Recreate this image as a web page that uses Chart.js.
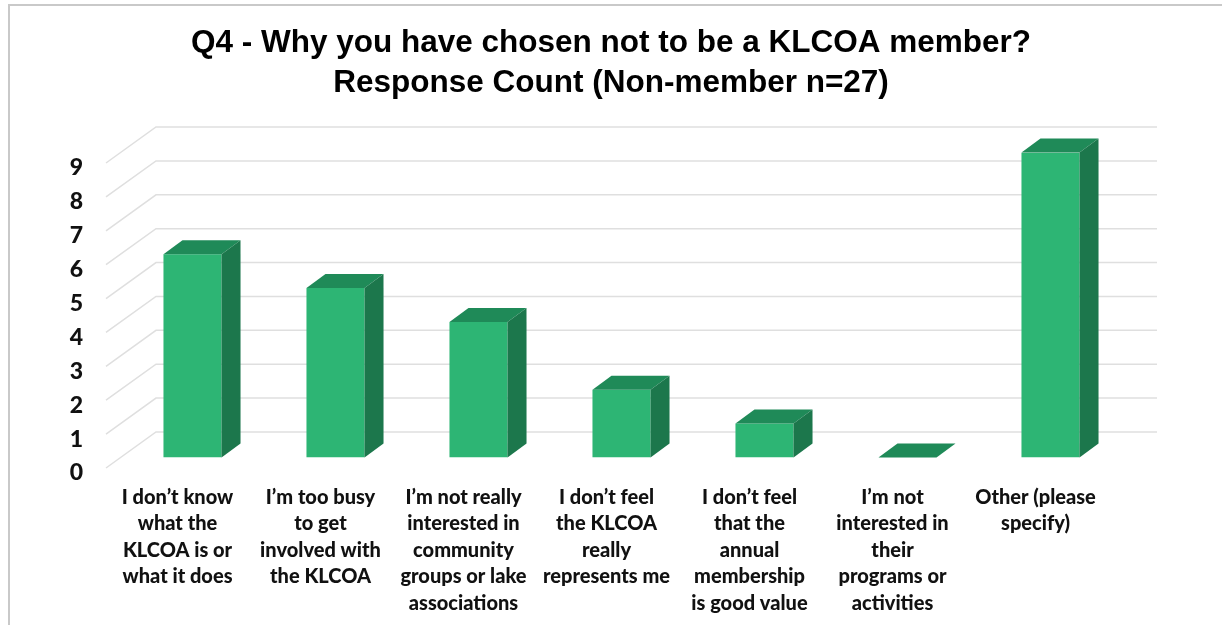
<!DOCTYPE html>
<html>
<head>
<meta charset="utf-8">
<script src="https://cdn.jsdelivr.net/npm/chart.js@4"></script>
<style>
  html, body { margin: 0; background: #fff; overflow: hidden; }
  #wrap { position: absolute; left: 0; top: 0; width: 1222px; height: 625px; }
  #frame { position: absolute; left: 8px; top: 4px; width: 1222px; height: 640px; border: 2px solid #c9c9c9; box-sizing: border-box; }
</style>
</head>
<body>
<div id="frame"></div>
<div id="wrap"><canvas id="surveyChart"></canvas></div>
<script>
const titleLines = ["Q4 - Why you have chosen not to be a KLCOA member?", "Response Count (Non-member n=27)"];
const categories = [
    ["I don’t know", "what the", "KLCOA is or", "what it does"],
    ["I’m too busy", "to get", "involved with", "the KLCOA"],
    ["I’m not really", "interested in", "community", "groups or lake", "associations"],
    ["I don’t feel", "the KLCOA", "really", "represents me"],
    ["I don’t feel", "that the", "annual", "membership", "is good value"],
    ["I’m not", "interested in", "their", "programs or", "activities"],
    ["Other (please", "specify)"]
];
const responseCounts = [6, 5, 4, 2, 1, 0, 9];
const yTicks = [0, 1, 2, 3, 4, 5, 6, 7, 8, 9];

// fake 3D look: floor depth of the grid, where the bars sit in it, and the bar's own depth
const gridShiftY = -5; // tick labels sit a little lower than the front end of their grid line
const wallDX = 50, wallDY = -36;
const barShiftX = 15, barShiftY = -15.5;
const barDX = 19, barDY = -14;

const fake3d = {
    id: 'fake3d',
    beforeDatasetsDraw(chart) {
        const { ctx, chartArea, scales: { y } } = chart;
        ctx.save();
        ctx.strokeStyle = '#dfdfdf';
        ctx.lineWidth = 1.5;
        yTicks.forEach(v => {
            const py = y.getPixelForValue(v) + gridShiftY;
            ctx.beginPath();
            ctx.moveTo(chartArea.left, py);
            ctx.lineTo(chartArea.left + wallDX, py + wallDY);
            ctx.lineTo(chartArea.right + wallDX, py + wallDY);
            ctx.stroke();
        });
        ctx.restore();
    },
    beforeDatasetDraw(chart) {
        chart.ctx.save();
        chart.ctx.translate(barShiftX, barShiftY);
    },
    afterDatasetDraw(chart, args) {
        const ctx = chart.ctx;
        args.meta.data.forEach(bar => {
            const left = bar.x - bar.width / 2, right = bar.x + bar.width / 2;
            // top face
            ctx.fillStyle = '#1f8a58';
            ctx.beginPath();
            ctx.moveTo(left, bar.y);
            ctx.lineTo(left + barDX, bar.y + barDY);
            ctx.lineTo(right + barDX, bar.y + barDY);
            ctx.lineTo(right, bar.y);
            ctx.closePath();
            ctx.fill();
            // side face
            ctx.fillStyle = '#1c774c';
            ctx.beginPath();
            ctx.moveTo(right, bar.y);
            ctx.lineTo(right + barDX, bar.y + barDY);
            ctx.lineTo(right + barDX, bar.base + barDY);
            ctx.lineTo(right, bar.base);
            ctx.closePath();
            ctx.fill();
        });
        ctx.restore();
    }
};

new Chart(document.getElementById('surveyChart').getContext('2d'), {
    type: 'bar',
    data: {
        labels: categories,
        datasets: [{
            data: responseCounts,
            backgroundColor: '#2db574',
            borderWidth: 0,
            categoryPercentage: 1,
            barPercentage: 0.406
        }]
    },
    options: {
        responsive: true,
        maintainAspectRatio: false,
        animation: false,
        layout: { padding: { top: 23, right: 0, left: 0, bottom: 0 } },
        plugins: {
            legend: { display: false },
            tooltip: { enabled: false },
            title: {
                display: true,
                text: titleLines,
                color: '#000',
                font: { family: '"Liberation Sans"', size: 31.5, weight: 'bold', lineHeight: 1.27 },
                padding: { top: 0, bottom: 65 }
            }
        },
        scales: {
            x: {
                grid: { display: false },
                border: { display: false },
                afterFit(scale) { scale.height = 152; },
                ticks: {
                    color: '#111',
                    maxRotation: 0,
                    autoSkip: false,
                    padding: 3,
                    font: { family: 'Lato', size: 20, weight: '900', lineHeight: 1.325 }
                }
            },
            y: {
                min: 0,
                max: 9,
                grid: { display: false, drawTicks: false },
                border: { display: false },
                afterFit(scale) { scale.width = 106; },
                ticks: {
                    color: '#111',
                    stepSize: 1,
                    padding: 23,
                    font: { family: 'Lato', size: 23, weight: '900' }
                }
            },
            // empty right axis, only reserves the space right of the plot so the title stays centred on the page
            spacer: {
                position: 'right',
                min: 0,
                max: 1,
                grid: { display: false },
                border: { display: false },
                ticks: { display: false },
                afterFit(scale) { scale.width = 115; }
            }
        }
    },
    plugins: [fake3d]
});
</script>
</body>
</html>
